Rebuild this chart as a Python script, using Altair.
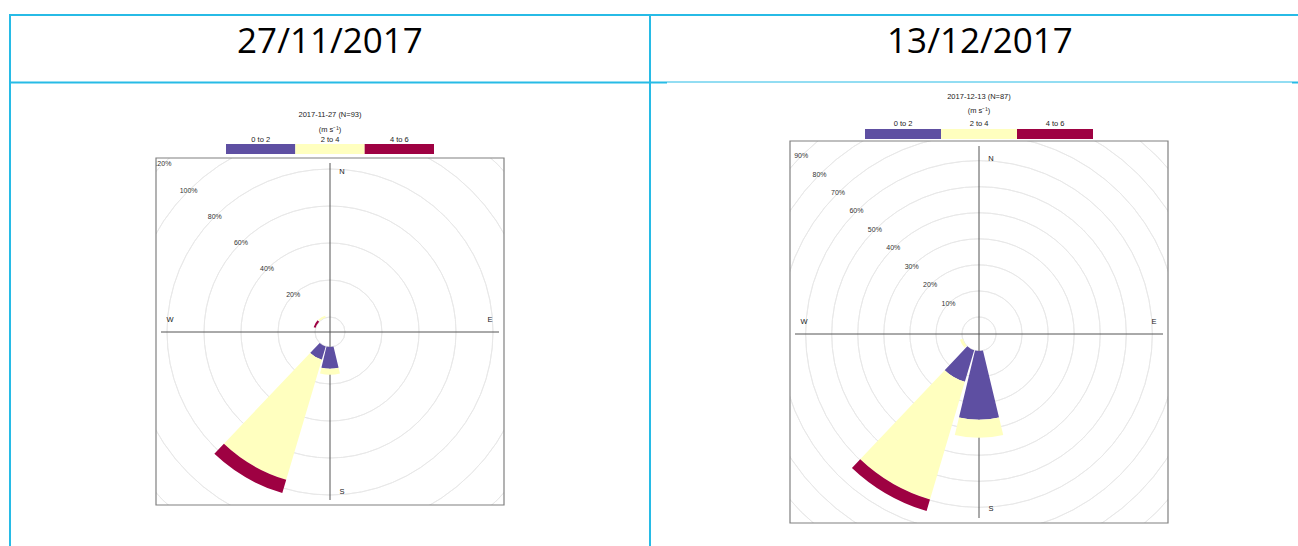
import math

import altair as alt
import pandas as pd

# ---------------------------------------------------------------- data
speed_classes = ["0 to 2", "2 to 4", "4 to 6"]
speed_colors = ["#5E4FA2", "#FFFFBF", "#9E0142"]

# 27/11/2017 (N=93): frequency (%) per 30-degree sector and speed band
nov_dirs = [180, 210, 300, 330]
nov_0to2 = [11.8, 7.5, 0.0, 0.0]
nov_2to4 = [3.2, 67.7, 0.0, 1.1]
nov_4to6 = [0.0, 7.5, 1.1, 0.0]
nov_rings = [20, 40, 60, 80, 100, 120]

# 13/12/2017 (N=87)
dec_dirs = [180, 210, 240]
dec_0to2 = [26.4, 12.6, 0.0]
dec_2to4 = [6.9, 47.1, 1.1]
dec_4to6 = [0.0, 4.6, 0.0]
dec_rings = [10, 20, 30, 40, 50, 60, 70, 80, 90]

headers = ["27/11/2017", "13/12/2017"]
rose_titles = ["2017-11-27 (N=93)", "2017-12-13 (N=87)"]
unit_label = "(m s\u207b\u00b9)"

# ---------------------------------------------------------------- style
SECTOR_HALF = 13.5
TWO_PI = 2 * math.pi
GRID = "#e8e8e8"
AXIS = "#555555"
FRAME = "#808080"
BLUE = "#27BBE6"
SMALL_FONT = "Liberation Sans"
ONE = pd.DataFrame({"k": [0]})

color_scale = alt.Scale(domain=speed_classes, range=speed_colors)
theta_scale = alt.Scale(domain=[0, 360], range=[0, TWO_PI])


def stacked(dirs, cols):
    rows = []
    for i, wd in enumerate(dirs):
        base = 0.0
        for cls, col in zip(speed_classes, cols):
            v = col[i]
            if v > 0:
                rows.append({"wd": wd, "cls": cls, "lo": base, "hi": base + v})
            base += v
    return pd.DataFrame(rows)


def rule(x0, y0, x1, y1, color, width):
    return alt.Chart(ONE).mark_rule(color=color, strokeWidth=width).encode(
        x=alt.value(x0), y=alt.value(y0), x2=alt.value(x1), y2=alt.value(y1)
    )


def label(text, x, y, size=7.5, color="#222222", font=SMALL_FONT):
    return alt.Chart(ONE).mark_text(
        text=text, font=font, fontSize=size, color=color, baseline="middle", align="center"
    ).encode(x=alt.value(x), y=alt.value(y))


def rose(dirs, cols, rings, title, cx, cy, r0, px_per_pct, box, compass_dist, key):
    L, T, R, B = box
    rscale = alt.Scale(type="linear", domain=[0, 100], range=[r0, r0 + 100 * px_per_pct])
    centre = dict(x=alt.value(cx), y=alt.value(cy))

    grid = alt.Chart(pd.DataFrame({"r": [0] + rings})).mark_arc(
        filled=False, stroke=GRID, strokeWidth=0.9
    ).encode(
        theta=alt.value(0), theta2=alt.value(TWO_PI),
        radius=alt.Radius("r:Q", scale=rscale, stack=None), radius2=alt.Radius2("r"),
        **centre,
    )

    ring_labels = alt.Chart(pd.DataFrame({"r": rings})).transform_calculate(
        txt="datum.r + '%'"
    ).mark_text(font=SMALL_FONT, fontSize=7, color="#333333").encode(
        theta=alt.value(7 * math.pi / 4),
        radius=alt.Radius("r:Q", scale=rscale, stack=None),
        text="txt:N",
        **centre,
    )

    pad = 100
    masks = [
        alt.Chart(ONE).mark_rect(color="white").encode(
            x=alt.value(a), y=alt.value(b), x2=alt.value(c), y2=alt.value(d)
        )
        for a, b, c, d in [
            (L - pad, T - pad, R + pad, T),
            (L - pad, B, R + pad, B + pad),
            (L - pad, T, L, B),
            (R, T, R + pad, B),
        ]
    ]

    frame = alt.Chart(ONE).mark_rect(filled=False, stroke=FRAME, strokeWidth=1.2).encode(
        x=alt.value(L), x2=alt.value(R), y=alt.value(T), y2=alt.value(B)
    )
    axes = [
        rule(cx, T + 5, cx, B - 5, AXIS, 1),
        rule(L + 5, cy, R - 5, cy, AXIS, 1),
    ]

    bars = alt.Chart(stacked(dirs, cols)).transform_calculate(
        t0=f"datum.wd - {SECTOR_HALF}", t1=f"datum.wd + {SECTOR_HALF}"
    ).mark_arc(strokeWidth=0).encode(
        theta=alt.Theta("t0:Q", scale=theta_scale, stack=None),
        theta2=alt.Theta2("t1"),
        radius=alt.Radius("lo:Q", scale=rscale, stack=None),
        radius2=alt.Radius2("hi"),
        color=alt.Color("cls:N", scale=color_scale, legend=None),
        **centre,
    )

    D = compass_dist
    compass = [
        label("N", cx + 12, cy - D, 7.5),
        label("S", cx + 12, cy + D, 7.5),
        label("W", cx - D, cy - 12, 7.5),
        label("E", cx + D, cy - 12, 7.5),
    ]

    kx0, kx1, y_title, y_unit, y_lab, y_bar0, y_bar1 = key
    seg = (kx1 - kx0) / 3
    key_df = pd.DataFrame({"cls": speed_classes, "i": list(range(len(speed_classes)))})
    key_base = alt.Chart(key_df).transform_calculate(
        a=f"{kx0} + datum.i * {seg}",
        b=f"{kx0} + (datum.i + 1) * {seg}",
        m=f"{kx0} + (datum.i + 0.5) * {seg}",
    )
    key_bar = key_base.mark_rect().encode(
        x=alt.X("a:Q", scale=None), x2=alt.X2("b"),
        y=alt.value(y_bar0), y2=alt.value(y_bar1),
        color=alt.Color("cls:N", scale=color_scale, legend=None),
    )
    key_text = key_base.mark_text(font=SMALL_FONT, fontSize=7.5, color="#222222").encode(
        x=alt.X("m:Q", scale=None), y=alt.value(y_lab), text="cls:N"
    )
    key_head = [
        label(title, (kx0 + kx1) / 2, y_title, 7.5),
        label(unit_label, (kx0 + kx1) / 2, y_unit, 7.5),
    ]

    return alt.layer(
        grid, ring_labels, *masks, frame, *axes, bars, *compass, key_bar, key_text, *key_head
    )


left = rose(
    nov_dirs, [nov_0to2, nov_2to4, nov_4to6], nov_rings, rose_titles[0],
    cx=330, cy=332, r0=15, px_per_pct=1.85, box=(156, 158, 504, 505),
    compass_dist=160, key=(226, 434, 115, 129.5, 139.5, 144, 154),
)
right = rose(
    dec_dirs, [dec_0to2, dec_2to4, dec_4to6], dec_rings, rose_titles[1],
    cx=979, cy=334, r0=17, px_per_pct=2.606, box=(790, 141, 1168, 523),
    compass_dist=175, key=(865, 1093, 96.5, 111, 123.5, 129, 139),
)

# table grid and header cells
table = [
    rule(9, 15, 1298, 15, BLUE, 2),
    rule(10, 15, 10, 546, BLUE, 2),
    rule(650, 15, 650, 546, BLUE, 2),
    rule(9, 82.5, 667, 82.5, BLUE, 2),
    rule(667, 82, 1292, 82, BLUE, 1),
    rule(1292, 82.5, 1298, 82.5, BLUE, 2),
    label(headers[0], 330, 42, 35, "#000000", "Open Sans"),
    label(headers[1], 980, 42, 35, "#000000", "Open Sans"),
]

chart = alt.layer(left, right, *table).resolve_scale(
    radius="independent"
).properties(
    width=1298, height=546, padding=0, autosize=alt.AutoSizeParams(type="none"),
    background="white",
).configure_view(strokeWidth=0)

chart.save("out.html", embed_options={"renderer": "svg", "actions": False})
